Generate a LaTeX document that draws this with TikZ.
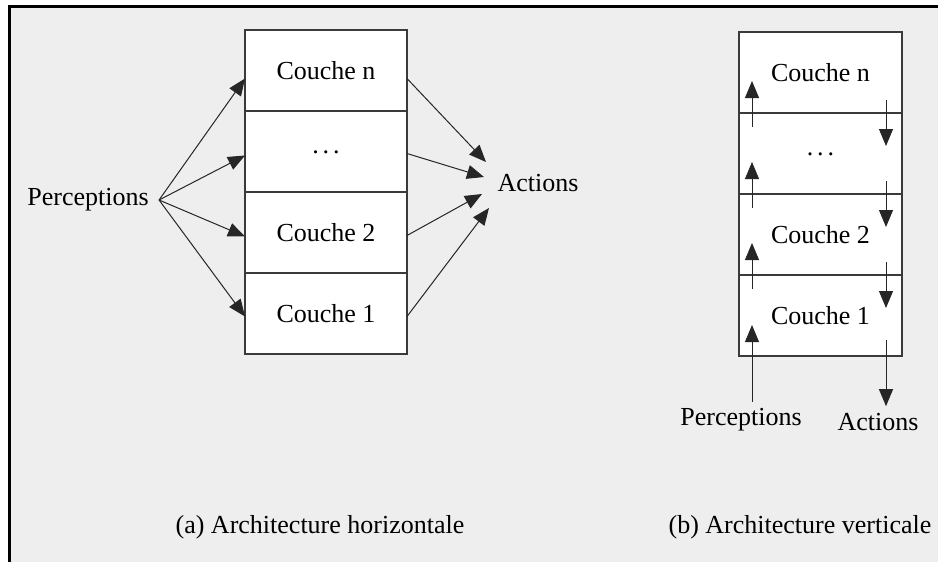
\documentclass[tikz,border=0pt]{standalone}
\usepackage{fontspec}
\setmainfont{Liberation Serif}
\usetikzlibrary{positioning,arrows.meta}

\definecolor{fond}{HTML}{EEEEEE}
\definecolor{trait}{HTML}{3A3A3A}

\tikzset{
  couche/.style={draw=trait, line width=0.75pt, fill=white, minimum width=81pt,
    minimum height=40.5pt, inner sep=0pt, outer sep=0pt},
  fleche/.style={-{Triangle[length=8.5pt,width=7pt]}, line width=0.5pt, black!85},
}

\begin{document}
\begin{tikzpicture}[x=0.5pt, y=-0.5pt, font=\fontsize{13}{15}\selectfont] % 1 unit = 1 px
\useasboundingbox (0,0) rectangle (938,562);
\fill[fond] (9,6) rectangle (938,562);
\draw[line width=1.5pt] (9,562) -- (9,6) -- (938,6);

% (a) architecture horizontale
\node[couche] (hn) at (326,70.5) {Couche n};
\node[couche, below=0pt of hn] (hd) {\raisebox{-2pt}{.\kern2pt.\kern2pt.}};
\node[couche, below=0pt of hd] (h2) {Couche 2};
\node[couche, below=0pt of h2] (h1) {Couche 1};

\node[inner xsep=5pt] (hperc) at (88,200) {Perceptions};
\node (hact) at (538,183) {Actions};

\coordinate (a4) at (486,162);
\coordinate (a3) at (484,177);
\coordinate (a2) at (482,194);
\coordinate (a1) at (489,208);

\draw[fleche] (hperc.east) -- ([yshift=-4pt]hn.west);
\draw[fleche] (hperc.east) -- ([yshift=-2pt]hd.west);
\draw[fleche] (hperc.east) -- ([yshift=-2pt]h2.west);
\draw[fleche] (hperc.east) -- ([yshift=-1.5pt]h1.west);

\draw[fleche] ([yshift=-4pt]hn.east) -- (a4);
\draw[fleche] ([yshift=-1pt]hd.east) -- (a3);
\draw[fleche] ([yshift=-1.5pt]h2.east) -- (a2);
\draw[fleche] ([yshift=-1.5pt]h1.east) -- (a1);

% (b) architecture verticale
\node[couche, minimum width=81.5pt] (vn) at (820.5,72.5) {Couche n};
\node[couche, minimum width=81.5pt, below=0pt of vn] (vd) {\raisebox{-2pt}{.\kern2pt.\kern2pt.}};
\node[couche, minimum width=81.5pt, below=0pt of vd] (v2) {Couche 2};
\node[couche, minimum width=81.5pt, below=0pt of v2] (v1) {Couche 1};

\node (vperc) at (741,420) {Perceptions};
\node (vact) at (878,422) {Actions};

\foreach \r in {vn,vd,v2}{
  \draw[fleche] ([shift={(6.5pt,-7pt)}]\r.south west) -- ++(0,23pt);
  \draw[fleche] ([shift={(-8pt,6.5pt)}]\r.south east) -- ++(0,-23pt);
}
\draw[fleche] ([xshift=5.5pt]vperc.north) -- ([shift={(6.5pt,15.5pt)}]v1.south west);
\draw[fleche] ([shift={(-8pt,8pt)}]v1.south east) -- ([xshift=4pt]vact.north);

% legendes
\node (lega) at (320,527) {(a) Architecture horizontale};
\node (legb) at (800,527) {(b) Architecture verticale};
\end{tikzpicture}
\end{document}
